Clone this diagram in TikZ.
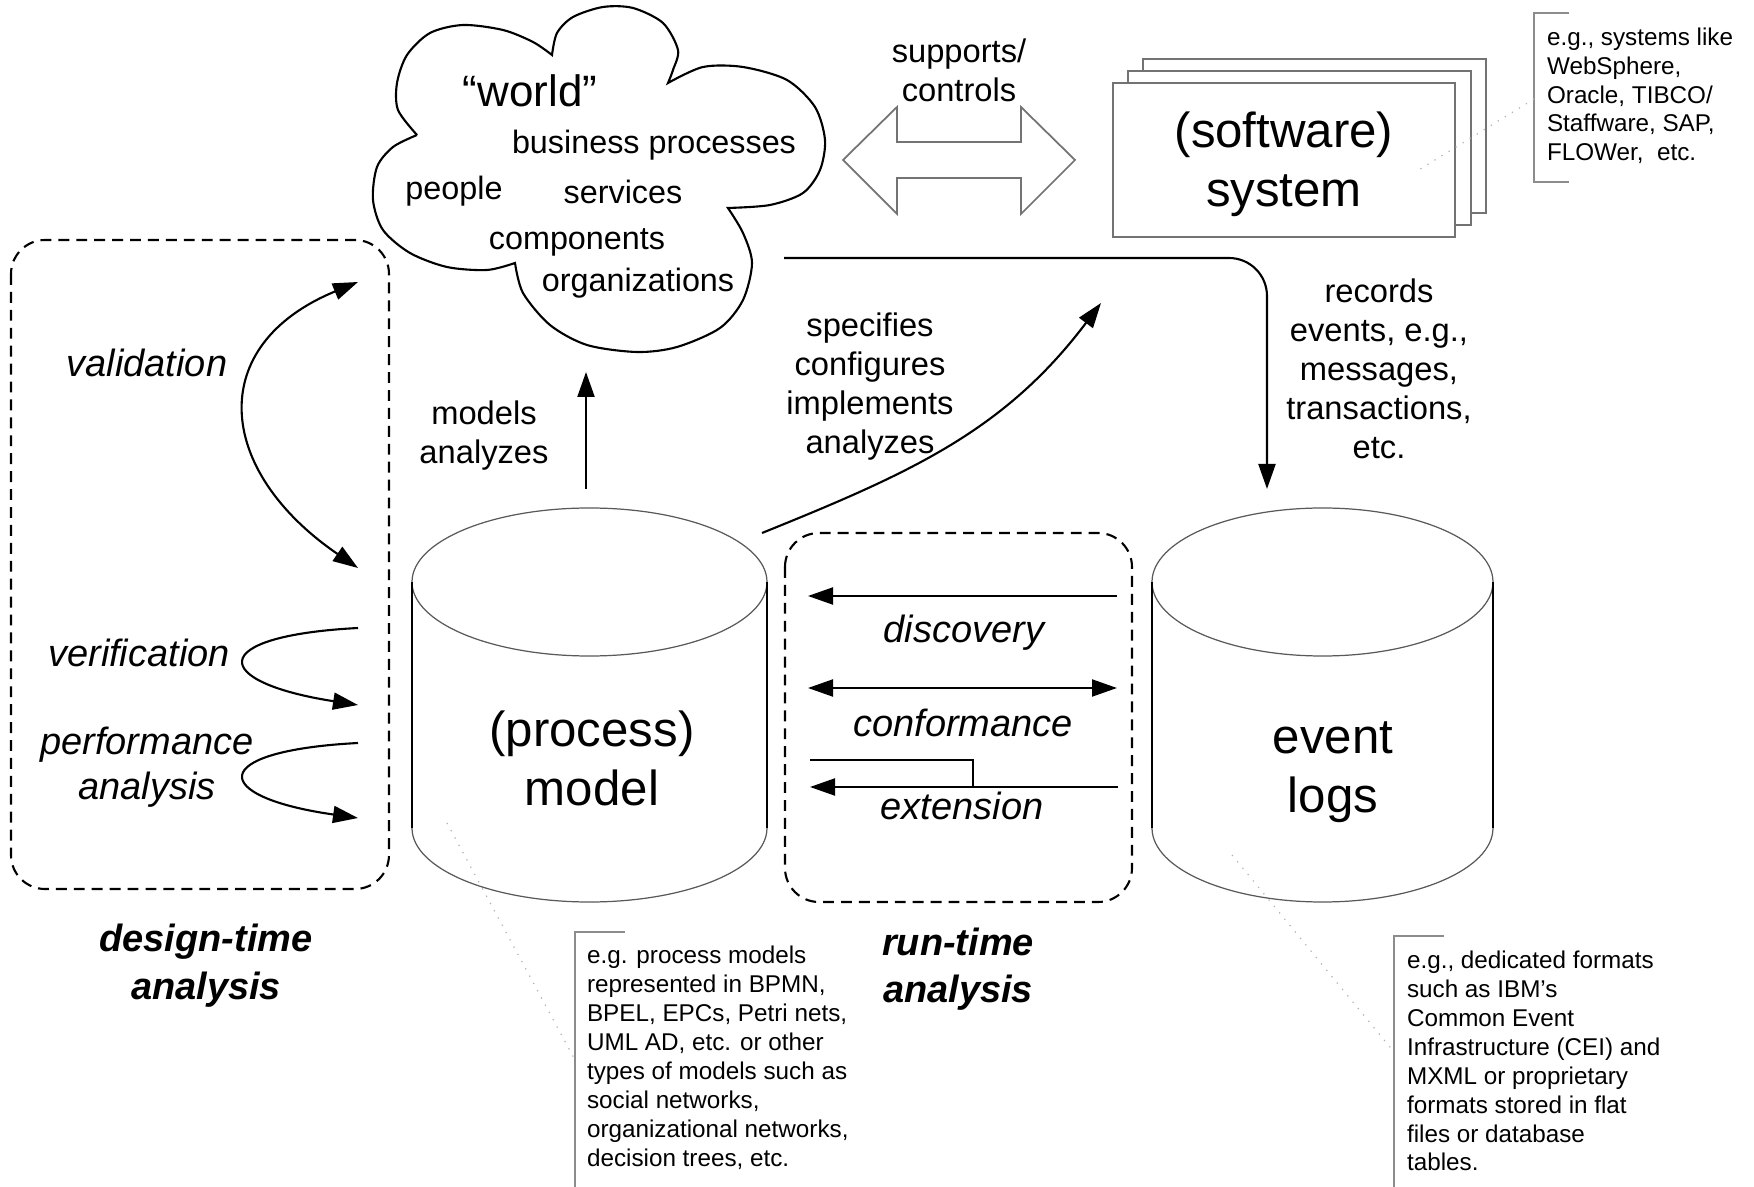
\documentclass[tikz,border=0pt]{standalone}
\usepackage{fontspec}
\setmainfont{Liberation Sans}
\usetikzlibrary{arrows.meta}
\tikzset{
  diagram style/.style={
    >={Triangle[length=2.5mm,width=1.7mm]}, % arrow tip style
    line width=0.6pt,                       % default line thickness
  }
}
\tikzset{every path/.style={diagram style}}
\tikzset{
  big label/.style={font=\fontsize{14}{17}\selectfont, align=center, inner sep=0pt, anchor=base},
  world label/.style={font=\fontsize{9.2}{11}\selectfont, inner sep=0pt, anchor=base},
  mid label/.style={font=\fontsize{9.3}{11.1}\selectfont, align=center, inner sep=0pt, anchor=base},
  act label/.style={font=\fontsize{10.8}{13}\selectfont\itshape, align=center, inner sep=0pt, anchor=base},
  phase label/.style={font=\fontsize{10.8}{13.4}\selectfont\bfseries\itshape, align=center, inner sep=0pt, anchor=base},
  note text/.style={font=\fontsize{6.9}{8.25}\selectfont, align=left, inner sep=0pt, anchor=base west},
  note bracket/.style={draw=black!45, line width=0.5pt},
  note leader/.style={draw=black!30, line width=0.35pt, dotted},
  phase box/.style={draw=black, rounded corners=0.34cm, dash pattern=on 3.1pt off 2pt},
  sys sheet/.style={draw=black!55, fill=white, line width=0.5pt},
  db side/.style={draw=black, line width=0.7pt},
  db rim/.style={draw=black!65, line width=0.35pt},
}

\begin{document}
\begin{tikzpicture}
    \useasboundingbox (0,0) rectangle (17.54,-11.87);

    % the "world" cloud, one smooth lobe after the other
    \draw[line width=0.6pt]
      plot[smooth] coordinates {(4.17,-1.35) (3.98,-1.10) (3.97,-0.83) (4.07,-0.55) (4.30,-0.33) (4.63,-0.25) (5.03,-0.30) (5.33,-0.42) (5.52,-0.55)}
      -- plot[smooth] coordinates {(5.52,-0.55) (5.57,-0.33) (5.73,-0.17) (6.03,-0.07) (6.33,-0.08) (6.63,-0.23) (6.78,-0.50) (6.73,-0.70) (6.68,-0.83)}
      -- plot[smooth] coordinates {(6.68,-0.83) (7.03,-0.67) (7.43,-0.67) (7.87,-0.80) (8.15,-1.07) (8.25,-1.40) (8.20,-1.70) (8.03,-1.93) (7.70,-2.05) (7.28,-2.08)}
      -- plot[smooth] coordinates {(7.28,-2.08) (7.43,-2.33) (7.52,-2.63) (7.43,-3.00) (7.20,-3.28) (6.77,-3.47) (6.37,-3.52) (5.87,-3.45) (5.50,-3.25) (5.23,-2.93) (5.15,-2.63)}
      -- plot[smooth] coordinates {(5.15,-2.63) (4.87,-2.70) (4.47,-2.67) (4.10,-2.53) (3.83,-2.30) (3.73,-2.00) (3.77,-1.67) (3.93,-1.47) (4.17,-1.35)};
    \node[font=\fontsize{12.5}{15}\selectfont, inner sep=0pt, anchor=base] (world) at (5.30,-1.07) {“world”};
    \node[world label] (bp) at (6.54,-1.54) {business processes};
    \node[world label] (people) at (4.54,-2.00) {people};
    \node[world label] (services) at (6.23,-2.04) {services};
    \node[world label] (components) at (5.77,-2.50) {components};
    \node[world label] (orgs) at (6.38,-2.92) {organizations};

    % stacked sheets of the software system
    \draw[sys sheet] (11.43,-0.59) rectangle (14.86,-2.13);
    \draw[sys sheet] (11.28,-0.71) rectangle (14.71,-2.25);
    \draw[sys sheet] (11.13,-0.83) rectangle (14.55,-2.37);
    \node[big label] (system) at (12.84,-2.07) {(software)\\system};

    % hollow double arrow between world and system
    \draw[draw=black!55, line width=0.5pt, fill=white]
      (8.43,-1.60) -- (8.97,-1.07) -- (8.97,-1.42) -- (10.21,-1.42) -- (10.21,-1.07)
      -- (10.75,-1.60) -- (10.21,-2.14) -- (10.21,-1.78) -- (8.97,-1.78) -- (8.97,-2.14) -- cycle;
    \node[mid label] (supports) at (9.59,-1.02) {supports/\\controls};

    % process model cylinder
    \draw[db rim] (5.895,-5.82) ellipse (1.775 and 0.74);
    \draw[db rim] (4.12,-8.28) arc (180:360:1.775 and 0.74);
    \draw[db side] (4.12,-5.82) -- (4.12,-8.28);
    \draw[db side] (7.67,-5.82) -- (7.67,-8.28);
    \node[big label] (model) at (5.92,-8.06) {(process)\\model};

    % event log cylinder
    \draw[db rim] (13.225,-5.82) ellipse (1.705 and 0.74);
    \draw[db rim] (11.52,-8.28) arc (180:360:1.705 and 0.74);
    \draw[db side] (11.52,-5.82) -- (11.52,-8.28);
    \draw[db side] (14.93,-5.82) -- (14.93,-8.28);
    \node[big label] (logs) at (13.33,-8.13) {event\\logs};

    % links between world, model, system and logs
    \coordinate (model top) at (5.86,-4.89);
    \coordinate (world bottom) at (5.86,-3.72);
    \coordinate (model corner) at (7.62,-5.33);
    \coordinate (system below) at (11.01,-3.03);
    \coordinate (world right) at (7.84,-2.58);
    \coordinate (logs top) at (12.67,-4.89);
    \draw[->] (model top) -- (world bottom);
    \draw[->] (model corner) to[out=22, in=-127] (system below);
    \draw[->, rounded corners=0.38cm] (world right) -| (logs top);
    \node[mid label] (models) at (4.84,-4.64) {models\\analyzes};
    \node[mid label] (specifies) at (8.70,-4.54) {specifies\\configures\\implements\\analyzes};
    \node[mid label] (records) at (13.79,-4.59) {records\\events, e.g.,\\messages,\\transactions,\\etc.};

    % design-time analysis
    \draw[phase box] (0.11,-2.40) rectangle (3.89,-8.89);
    \coordinate (val a) at (3.58,-2.82);
    \coordinate (val b) at (3.58,-5.68);
    \coordinate (ver a) at (3.58,-6.28);
    \coordinate (ver b) at (3.58,-7.05);
    \coordinate (perf a) at (3.58,-7.43);
    \coordinate (perf b) at (3.58,-8.18);
    \draw[<->] (val a) .. controls (2.05,-3.45) and (2.15,-4.70) .. (val b);
    \draw[->] (ver a) .. controls (2.05,-6.36) and (2.10,-6.82) .. (ver b);
    \draw[->] (perf a) .. controls (2.05,-7.51) and (2.10,-7.97) .. (perf b);
    \node[act label] (validation) at (1.47,-3.77) {validation};
    \node[act label] (verification) at (1.39,-6.67) {verification};
    \node[act label] (performance) at (1.47,-8.00) {performance\\analysis};
    \node[phase label] (design) at (2.06,-9.99) {design-time\\analysis};

    % run-time analysis
    \draw[phase box] (7.85,-5.33) rectangle (11.32,-9.02);
    \coordinate (disc r) at (11.17,-5.96);
    \coordinate (disc l) at (8.08,-5.96);
    \coordinate (conf r) at (11.17,-6.88);
    \coordinate (conf l) at (8.08,-6.88);
    \coordinate (ext r) at (11.18,-7.87);
    \coordinate (ext l) at (8.10,-7.87);
    \coordinate (ext top) at (8.10,-7.60);
    \coordinate (ext join) at (9.73,-7.87);
    \draw[->] (disc r) -- (disc l);
    \draw[<->] (conf l) -- (conf r);
    \draw[->] (ext r) -- (ext l);
    \draw (ext top) -| (ext join);
    \node[act label] (discovery) at (9.64,-6.43) {discovery};
    \node[act label] (conformance) at (9.63,-7.37) {conformance};
    \node[act label] (extension) at (9.62,-8.20) {extension};
    \node[phase label] (runtime) at (9.58,-10.03) {run-time\\analysis};

    % side notes
    \draw[note bracket] (15.69,-0.13) -- (15.34,-0.13) -- (15.34,-1.82) -- (15.69,-1.82);
    \coordinate (sys note) at (15.34,-0.99);
    \coordinate (sys inside) at (14.17,-1.71);
    \draw[note leader] (sys note) -- (sys inside);
    \node[note text] (sysnote) at (15.46,-1.61) {e.g., systems like\\WebSphere,\\Oracle, TIBCO/\\Staffware, SAP,\\FLOWer,~ etc.};

    \draw[note bracket] (6.25,-9.32) -- (5.75,-9.32) -- (5.75,-11.87);
    \coordinate (model note) at (5.75,-10.60);
    \coordinate (model inside) at (4.47,-8.23);
    \draw[note leader] (model inside) -- (model note);
    \node[note text] (modelnote) at (5.86,-11.66) {e.g. process models\\represented in BPMN,\\BPEL, EPCs, Petri nets,\\UML AD, etc. or other\\types of models such as\\social networks,\\organizational networks,\\decision trees, etc.};

    \draw[note bracket] (14.44,-9.36) -- (13.94,-9.36) -- (13.94,-11.87);
    \coordinate (logs note) at (13.94,-10.52);
    \coordinate (logs inside) at (12.32,-8.55);
    \draw[note leader] (logs inside) -- (logs note);
    \node[note text] (logsnote) at (14.06,-11.71) {e.g., dedicated formats\\such as IBM’s\\Common Event\\Infrastructure (CEI) and\\MXML or proprietary\\formats stored in flat\\files or database\\tables.};
\end{tikzpicture}
\end{document}
